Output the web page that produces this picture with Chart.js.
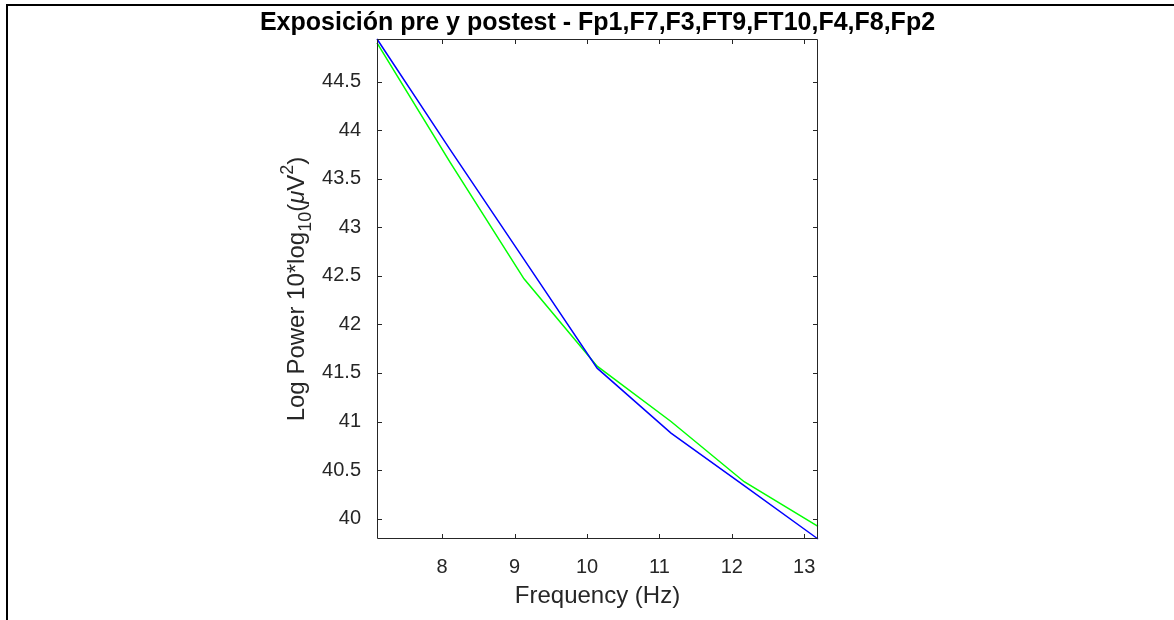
<!DOCTYPE html>
<html>
<head>
<meta charset="utf-8">
<script src="https://cdn.jsdelivr.net/npm/chart.js@4.4.1/dist/chart.umd.min.js"></script>
<style>
  html, body { margin: 0; padding: 0; background: #fff; }
  #wrap { position: relative; width: 1174px; height: 620px; }
  #frame {
    position: absolute; left: 6px; top: 4px; right: 0; bottom: 0;
    border-top: 2px solid #000; border-left: 2px solid #000;
    pointer-events: none;
  }
</style>
</head>
<body>
<div id="wrap">
  <canvas id="chart" width="1174" height="620" style="width:1174px;height:620px"></canvas>
  <div id="frame"></div>
</div>
<script>
// Spectrum, frontal channels, pre vs post exposure.
const FREQ = [7.10, 8.11, 9.13, 10.14, 11.16, 12.17, 13.19];
const PRE  = [44.94, 43.80, 42.67, 41.55, 40.88, 40.34, 39.79]; // blue
const POST = [44.90, 43.67, 42.47, 41.57, 41.00, 40.38, 39.92]; // green

const X_TICKS = [8, 9, 10, 11, 12, 13];
const Y_TICKS = [40, 40.5, 41, 41.5, 42, 42.5, 43, 43.5, 44, 44.5];

const TITLE = "Exposición pre y postest - Fp1,F7,F3,FT9,FT10,F4,F8,Fp2";
const X_LABEL = "Frequency (Hz)";

const AXIS_COLOR = "#262626";
const FONT = "'Liberation Sans', Arial, Helvetica, sans-serif";

Chart.defaults.font.family = FONT;
Chart.defaults.color = AXIS_COLOR;

const pts = (ys) => FREQ.map((f, i) => ({ x: f, y: ys[i] }));

// MATLAB-ish "axis tight": limits hug the data
const allY = PRE.concat(POST);

// Box around the axes with inward ticks on all four sides
const boxPlugin = {
  id: "box",
  afterDatasetsDraw(chart) {
    const { ctx, chartArea: a, scales: { x, y } } = chart;
    const tl = 5;
    ctx.save();
    ctx.strokeStyle = AXIS_COLOR;
    ctx.lineWidth = 1;
    ctx.beginPath();
    ctx.rect(Math.round(a.left) + 0.5, Math.round(a.top) + 0.5,
             Math.round(a.width) - 1, Math.round(a.height) - 1);
    Y_TICKS.forEach(v => {
      const py = Math.round(y.getPixelForValue(v)) + 0.5;
      ctx.moveTo(a.left, py); ctx.lineTo(a.left + tl, py);
      ctx.moveTo(a.right, py); ctx.lineTo(a.right - tl, py);
    });
    X_TICKS.forEach(v => {
      const px = Math.round(x.getPixelForValue(v)) + 0.5;
      ctx.moveTo(px, a.bottom); ctx.lineTo(px, a.bottom - tl);
      ctx.moveTo(px, a.top); ctx.lineTo(px, a.top + tl);
    });
    ctx.stroke();
    ctx.restore();
  },
};

// Title centred over the axes, allowed to run wider than them
const titlePlugin = {
  id: "axTitle",
  afterDraw(chart) {
    const { ctx, chartArea: a } = chart;
    ctx.save();
    ctx.font = `bold 25px ${FONT}`;
    ctx.fillStyle = "#000";
    ctx.textAlign = "center";
    ctx.textBaseline = "middle";
    ctx.fillText(TITLE, (a.left + a.right) / 2, a.top - 16);
    ctx.restore();
  },
};

// Rotated y label with the subscript / superscript bits
const yLabelPlugin = {
  id: "yLabel",
  afterDraw(chart) {
    const { ctx, chartArea: a } = chart;
    const big = 24, small = 18;
    const parts = [
      { t: "Log Power 10*log", size: big, dy: 0 },
      { t: "10", size: small, dy: 7 },
      { t: "(", size: big, dy: 0 },
      { t: "\u03BC", size: big, dy: 0, italic: true },
      { t: "V", size: big, dy: 0 },
      { t: "2", size: small, dy: -11 },
      { t: ")", size: big, dy: 0 },
    ];
    const fontOf = p => `${p.italic ? "italic " : ""}${p.size}px ${FONT}`;
    ctx.save();
    let total = 0;
    parts.forEach(p => { ctx.font = fontOf(p); p.w = ctx.measureText(p.t).width; total += p.w; });
    ctx.translate(a.left - 73, (a.top + a.bottom) / 2);
    ctx.rotate(-Math.PI / 2);
    ctx.fillStyle = AXIS_COLOR;
    ctx.textBaseline = "alphabetic";
    let cx = -total / 2;
    parts.forEach(p => { ctx.font = fontOf(p); ctx.fillText(p.t, cx, p.dy); cx += p.w; });
    ctx.restore();
  },
};

new Chart(document.getElementById("chart"), {
  type: "line",
  data: {
    datasets: [
      {
        label: "pre",
        data: pts(PRE),
        borderColor: "#0000ff",
        borderWidth: 1.5,
        pointRadius: 0,
        tension: 0,
        clip: 2,
      },
      {
        label: "post",
        data: pts(POST),
        borderColor: "#00ff00",
        borderWidth: 1.5,
        pointRadius: 0,
        tension: 0,
        clip: 2,
      },
    ],
  },
  options: {
    responsive: false,
    animation: false,
    events: [],
    layout: { padding: { top: 39, right: 356, bottom: 0, left: 0 } },
    plugins: {
      legend: { display: false },
      tooltip: { enabled: false },
      title: { display: false },
    },
    scales: {
      x: {
        type: "linear",
        min: FREQ[0],
        max: FREQ[FREQ.length - 1],
        afterBuildTicks: s => { s.ticks = X_TICKS.map(v => ({ value: v })); },
        afterFit: s => { s.height = 81; },
        grid: { display: false },
        border: { display: false },
        ticks: {
          padding: 8,
          maxRotation: 0,
          autoSkip: false,
          color: AXIS_COLOR,
          font: { size: 20 },
          callback: v => String(v),
        },
        title: {
          display: true,
          text: X_LABEL,
          color: AXIS_COLOR,
          font: { size: 24, lineHeight: 1.2 },
          padding: { top: 0, bottom: 9 },
        },
      },
      y: {
        type: "linear",
        min: Math.min(...allY),
        max: Math.max(...allY),
        afterBuildTicks: s => { s.ticks = Y_TICKS.map(v => ({ value: v })); },
        afterFit: s => { s.width = 377; },
        grid: { display: false },
        border: { display: false },
        ticks: {
          padding: 8,
          autoSkip: false,
          color: AXIS_COLOR,
          font: { size: 20 },
          callback: v => String(v),
        },
      },
    },
  },
  plugins: [boxPlugin, titlePlugin, yLabelPlugin],
});
</script>
</body>
</html>
